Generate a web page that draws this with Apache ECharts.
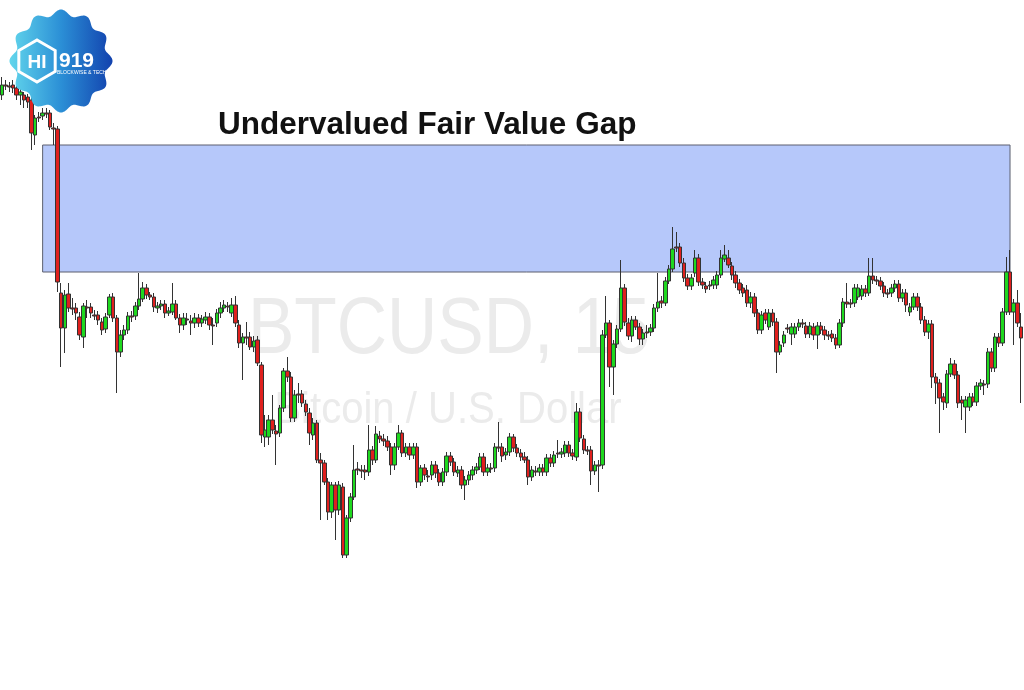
<!DOCTYPE html>
<html><head><meta charset="utf-8">
<script src="https://cdn.jsdelivr.net/npm/echarts@6/dist/echarts.min.js"></script>
<style>html,body{margin:0;padding:0;background:#fff}#c{width:1024px;height:690px}</style>
</head><body><div id="c"></div>
<script>
// BTCUSD 15-minute candles (price units)
const opens = [
29905,29915,29914,29915,29912,29905,29905,29903,29900,29865,
29883,29884,29887,29887,29872,29871,29707,29672,29706,29692,
29692,29683,29663,29693,29693,29685,29685,29678,29671,29685,
29703,29682,29648,29665,29670,29684,29684,29694,29701,29712,
29705,29703,29692,29694,29696,29687,29688,29696,29682,29675,
29681,29679,29677,29682,29677,29680,29683,29675,29677,29687,
29692,29694,29687,29695,29675,29657,29663,29663,29653,29660,
29635,29563,29563,29580,29569,29567,29592,29629,29623,29582,
29606,29606,29596,29587,29565,29577,29540,29537,29518,29488,
29515,29490,29513,29445,29482,29503,29531,29530,29530,29528,
29550,29540,29564,29561,29559,29553,29535,29553,29567,29547,
29553,29545,29553,29518,29532,29524,29525,29535,29527,29518,
29528,29544,29538,29527,29530,29515,29520,29525,29530,29533,
29543,29528,29532,29532,29553,29553,29545,29548,29563,29552,
29547,29543,29540,29523,29529,29528,29532,29528,29542,29537,
29547,29546,29547,29555,29547,29543,29588,29561,29550,29550,
29529,29535,29535,29665,29677,29633,29656,29671,29712,29677,
29664,29680,29673,29661,29668,29668,29672,29692,29699,29697,
29719,29731,29753,29753,29737,29722,29714,29727,29742,29718,
29714,29715,29715,29715,29725,29741,29742,29734,29725,29717,
29712,29710,29697,29703,29687,29670,29687,29673,29687,29678,
29648,29657,29672,29666,29666,29673,29677,29674,29666,29673,
29665,29674,29670,29665,29666,29662,29655,29677,29698,29697,
29697,29703,29704,29711,29707,29724,29720,29719,29714,29707,
29707,29712,29716,29702,29707,29688,29693,29703,29693,29680,
29668,29676,29623,29617,29603,29597,29626,29636,29625,29600,
29593,29593,29603,29598,29614,29616,29616,29648,29632,29663,
29657,29688,29728,29688,29697,29673
];
const closes = [
29915,29914,29913,29912,29905,29908,29900,29898,29867,29882,
29882,29887,29886,29873,29871,29718,29672,29705,29692,29691,
29687,29665,29694,29692,29687,29684,29680,29670,29683,29703,
29682,29648,29665,29670,29684,29683,29694,29701,29712,29705,
29703,29693,29694,29696,29687,29689,29696,29682,29675,29682,
29680,29677,29682,29677,29681,29683,29675,29674,29687,29692,
29695,29693,29695,29677,29657,29663,29662,29653,29659,29637,
29565,29570,29580,29570,29566,29592,29629,29623,29582,29605,
29605,29597,29588,29567,29577,29540,29537,29518,29488,29515,
29490,29515,29445,29482,29503,29530,29530,29529,29528,29550,
29540,29566,29561,29559,29553,29535,29553,29567,29547,29553,
29545,29553,29518,29532,29525,29523,29535,29527,29518,29528,
29544,29538,29528,29530,29515,29520,29525,29530,29533,29543,
29528,29532,29531,29553,29552,29544,29548,29563,29552,29547,
29543,29540,29523,29530,29528,29532,29528,29542,29537,29545,
29546,29548,29555,29547,29544,29588,29562,29550,29549,29529,
29535,29534,29665,29677,29633,29656,29671,29712,29678,29664,
29680,29673,29661,29667,29667,29672,29692,29698,29697,29719,
29731,29751,29752,29737,29722,29714,29722,29742,29718,29715,
29711,29714,29720,29725,29742,29745,29735,29725,29717,29710,
29707,29697,29703,29687,29670,29685,29680,29687,29678,29648,
29655,29665,29671,29673,29673,29677,29676,29666,29674,29665,
29674,29670,29665,29664,29662,29655,29677,29698,29696,29696,
29712,29712,29711,29707,29724,29720,29719,29714,29707,29706,
29712,29716,29702,29707,29695,29693,29703,29693,29680,29668,
29676,29623,29617,29602,29598,29626,29636,29625,29597,29597,
29600,29603,29598,29614,29617,29615,29648,29632,29663,29657,
29688,29728,29688,29697,29677,29662
];
const lows = [
29900,29910,29908,29907,29900,29895,29892,29892,29850,29855,
29878,29880,29882,29870,29855,29708,29633,29647,29688,29685,
29680,29660,29652,29682,29682,29680,29675,29665,29667,29682,
29678,29607,29643,29660,29666,29678,29680,29690,29698,29701,
29700,29688,29687,29690,29682,29684,29685,29680,29667,29670,
29675,29665,29672,29673,29673,29676,29670,29655,29673,29682,
29688,29688,29683,29673,29652,29620,29655,29650,29648,29634,
29557,29553,29555,29566,29535,29563,29588,29618,29578,29578,
29597,29593,29584,29555,29560,29537,29480,29515,29480,29482,
29460,29485,29442,29442,29478,29500,29525,29522,29520,29524,
29535,29537,29557,29554,29549,29525,29530,29550,29543,29543,
29540,29541,29512,29514,29520,29518,29520,29522,29514,29514,
29524,29534,29524,29523,29511,29500,29515,29520,29526,29530,
29524,29524,29527,29528,29548,29538,29540,29544,29548,29543,
29539,29537,29515,29519,29524,29524,29524,29524,29533,29533,
29542,29542,29543,29543,29540,29539,29558,29546,29545,29515,
29525,29508,29531,29662,29613,29605,29652,29668,29674,29660,
29658,29670,29655,29655,29662,29664,29668,29688,29692,29694,
29716,29728,29748,29733,29718,29710,29710,29723,29714,29711,
29707,29710,29711,29711,29722,29738,29732,29720,29712,29706,
29703,29693,29692,29683,29666,29666,29676,29670,29674,29627,
29645,29653,29667,29655,29662,29669,29672,29662,29662,29660,
29651,29666,29660,29660,29658,29651,29652,29673,29692,29692,
29693,29700,29700,29703,29704,29716,29715,29710,29703,29702,
29703,29708,29698,29698,29688,29684,29690,29689,29676,29664,
29661,29612,29596,29567,29590,29592,29623,29621,29592,29580,
29567,29589,29594,29594,29610,29605,29612,29628,29628,29653,
29654,29685,29685,29655,29673,29597
];
const highs = [
29923,29920,29918,29920,29916,29913,29908,29906,29903,29885,
29888,29892,29892,29890,29877,29874,29717,29710,29717,29702,
29697,29688,29697,29700,29697,29690,29689,29682,29687,29706,
29707,29685,29670,29675,29688,29689,29698,29727,29718,29716,
29708,29707,29698,29700,29700,29693,29717,29700,29686,29687,
29687,29685,29687,29686,29685,29688,29687,29682,29691,29698,
29700,29698,29702,29704,29680,29667,29678,29668,29664,29664,
29638,29585,29585,29605,29575,29595,29632,29643,29628,29610,
29617,29610,29600,29592,29582,29580,29547,29540,29522,29518,
29518,29519,29517,29485,29507,29555,29538,29535,29535,29575,
29554,29574,29569,29566,29564,29557,29557,29575,29570,29557,
29557,29557,29557,29535,29536,29530,29539,29539,29531,29532,
29548,29548,29542,29534,29534,29524,29529,29534,29537,29547,
29547,29536,29537,29557,29578,29557,29552,29567,29566,29556,
29551,29548,29544,29534,29534,29536,29536,29546,29546,29549,
29560,29552,29559,29559,29551,29597,29592,29565,29554,29554,
29539,29540,29670,29704,29680,29660,29675,29740,29716,29682,
29684,29684,29677,29671,29675,29676,29696,29727,29704,29723,
29735,29773,29768,29757,29742,29726,29726,29750,29746,29722,
29718,29719,29724,29729,29750,29755,29750,29738,29729,29721,
29716,29715,29708,29707,29691,29689,29691,29691,29691,29682,
29659,29669,29676,29677,29677,29681,29681,29678,29678,29677,
29678,29678,29674,29669,29670,29666,29681,29702,29717,29701,
29716,29716,29715,29715,29742,29742,29724,29723,29718,29711,
29716,29720,29720,29711,29711,29697,29707,29707,29697,29684,
29680,29680,29627,29621,29607,29630,29642,29640,29629,29604,
29604,29607,29607,29618,29621,29620,29652,29652,29667,29667,
29692,29743,29750,29701,29710,29687
];
// Fair value gap zone (price levels and candle indices)
const fvgTop = 29855, fvgBottom = 29728, fvgStartIdx = 11, fvgEndIdx = 272;
const titleText = 'Undervalued Fair Value Gap';
const symbolText = 'BTCUSD, 15';
const symbolDesc = 'Bitcoin / U.S. Dollar';

const t0 = Date.UTC(2023, 6, 10, 0, 0);
const times = opens.map((_, i) => {
  const d = new Date(t0 + i * 15 * 60000);
  return d.toISOString().slice(0, 16).replace('T', ' ');
});
const ohlc = opens.map((o, i) => [o, closes[i], lows[i], highs[i]]);

// scalloped badge outline
const badge = [];
for (let k = 0; k < 360; k++) {
  const t = k / 360 * Math.PI * 2;
  const r = 48.5 + 3 * Math.cos(12 * t);
  badge.push([61 + r * Math.cos(t), 61 + r * Math.sin(t)]);
}
const hex = [];
for (let k = 0; k < 6; k++) {
  const a = (-90 + 60 * k) * Math.PI / 180;
  hex.push([37 + 21 * Math.cos(a), 61 + 21 * Math.sin(a)]);
}

const chart = echarts.init(document.getElementById('c'), null, { renderer: 'canvas' });
chart.setOption({
  animation: false,
  backgroundColor: '#ffffff',
  grid: { left: 0, right: 1, top: 0, bottom: 0 },
  xAxis: { type: 'category', data: times, show: false, boundaryGap: true },
  yAxis: { type: 'value', min: 29310, max: 30000, show: false, splitLine: { show: false } },
  graphic: [
    { type: 'text', z: 0, x: 449, y: 331, scaleX: 0.87, style: { text: symbolText, fontFamily: 'Liberation Sans', fontSize: 80, fill: '#ebebeb', textAlign: 'center', textVerticalAlign: 'middle' } },
    { type: 'text', z: 0, x: 448, y: 411, scaleX: 0.89, style: { text: symbolDesc, fontFamily: 'Liberation Sans', fontSize: 45, fill: '#ebebeb', textAlign: 'center', textVerticalAlign: 'middle' } },
    { type: 'text', z: 50, x: 218, y: 125.5, style: { text: titleText, fontFamily: 'Liberation Sans', fontWeight: 'bold', fontSize: 31.5, fill: '#111111', textAlign: 'left', textVerticalAlign: 'middle' } },
    { type: 'polygon', z: 60, shape: { points: badge }, style: { fill: new echarts.graphic.LinearGradient(0, 0, 1, 0, [{ offset: 0, color: '#62d6ec' }, { offset: 0.5, color: '#2b8fd6' }, { offset: 1, color: '#1242ae' }]) } },
    { type: 'polygon', z: 61, shape: { points: hex }, style: { fill: 'none', stroke: '#ffffff', lineWidth: 3 } },
    { type: 'text', z: 62, x: 37, y: 63, style: { text: 'HI', fontFamily: 'Liberation Sans', fontWeight: 'bold', fontSize: 19, fill: '#ffffff', textAlign: 'center', textVerticalAlign: 'middle' } },
    { type: 'text', z: 62, x: 59, y: 61, style: { text: '919', fontFamily: 'Liberation Sans', fontWeight: 'bold', fontSize: 21, fill: '#ffffff', textAlign: 'left', textVerticalAlign: 'middle' } },
    { type: 'text', z: 62, x: 57, y: 73, style: { text: 'BLOCKWISE & TECH', fontFamily: 'Liberation Sans', fontSize: 5, fill: '#ffffff', textAlign: 'left', textVerticalAlign: 'middle' } }
  ],
  series: [
    {
      type: 'line', data: [], z: 1, silent: true,
      markArea: {
        silent: true,
        itemStyle: { color: '#b6c8fa', borderColor: '#5c5f6e', borderWidth: 1 },
        data: [[{ xAxis: fvgStartIdx, yAxis: fvgTop }, { xAxis: fvgEndIdx, yAxis: fvgBottom }]]
      }
    },
    {
      type: 'candlestick', z: 5, data: ohlc, barWidth: 4,
      itemStyle: { color: '#1fd81f', color0: '#e0201e', borderColor: '#333333', borderColor0: '#333333', borderWidth: 1 }
    }
  ]
});
</script></body></html>
